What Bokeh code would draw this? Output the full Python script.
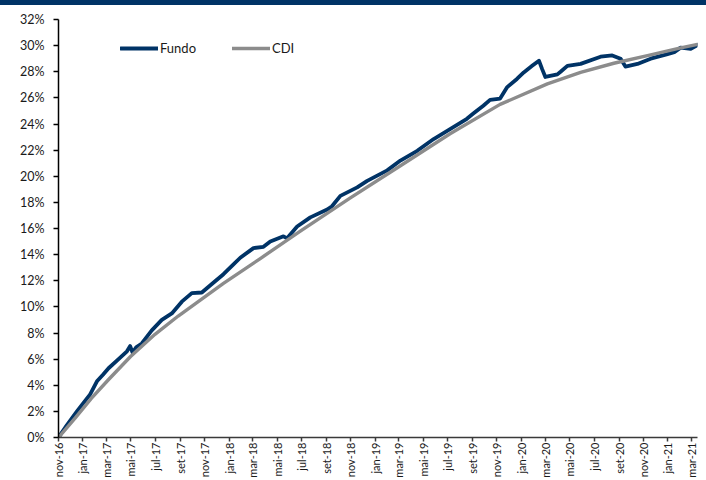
from math import pi
import pandas as pd
from bokeh.plotting import figure
from bokeh.layouts import column
from bokeh.models import (Range1d, FixedTicker, PrintfTickFormatter, CustomJSTickFormatter,
                          Legend, LegendItem, ColumnDataSource, Div)
from bokeh.embed import file_html
from bokeh.resources import INLINE

# ---------------- data ----------------
fundo_dates = ["2016-11-01", "2016-11-22", "2016-12-17", "2017-01-01", "2017-01-19", "2017-02-05",
               "2017-02-20", "2017-03-06", "2017-03-31", "2017-04-21", "2017-04-29", "2017-05-05",
               "2017-05-14", "2017-05-28", "2017-06-22", "2017-07-17", "2017-08-11", "2017-09-05",
               "2017-09-30", "2017-10-25", "2017-11-19", "2017-12-18", "2018-01-12", "2018-01-29",
               "2018-03-03", "2018-03-28", "2018-04-14", "2018-05-17", "2018-05-26", "2018-06-20",
               "2018-07-23", "2018-09-03", "2018-09-15", "2018-10-06", "2018-11-17", "2018-12-12",
               "2019-01-31", "2019-03-05", "2019-04-16", "2019-05-27", "2019-07-07", "2019-08-18",
               "2019-09-03", "2019-09-28", "2019-10-15", "2019-11-09", "2019-11-26", "2019-12-21",
               "2020-01-07", "2020-01-28", "2020-02-14", "2020-02-22", "2020-03-01", "2020-03-31",
               "2020-04-08", "2020-04-25", "2020-05-28", "2020-07-17", "2020-08-15", "2020-09-05",
               "2020-09-17", "2020-10-17", "2020-11-19", "2020-12-31", "2021-01-17", "2021-02-02",
               "2021-02-27", "2021-03-16"]
fundo_values = [0.0, 0.95, 2.0, 2.6, 3.3, 4.3,
                4.8, 5.3, 6.0, 6.6, 7.0, 6.5,
                6.9, 7.2, 8.2, 9.0, 9.5, 10.4,
                11.05, 11.1, 11.75, 12.5, 13.25, 13.76,
                14.5, 14.6, 15.0, 15.4, 15.25, 16.15,
                16.85, 17.45, 17.7, 18.5, 19.15, 19.65,
                20.45, 21.2, 21.95, 22.85, 23.6, 24.4,
                24.8, 25.4, 25.85, 25.95, 26.8, 27.45,
                27.95, 28.45, 28.85, 28.2, 27.6, 27.8,
                28.0, 28.45, 28.6, 29.15, 29.25, 29.0,
                28.4, 28.6, 29.0, 29.35, 29.5, 29.85,
                29.75, 30.05]

cdi_dates = ["2016-11-01", "2016-12-13", "2017-01-22", "2017-03-05", "2017-04-30", "2017-06-30",
             "2017-08-27", "2017-10-16", "2017-12-18", "2018-03-20", "2018-06-28", "2018-10-31",
             "2019-03-05", "2019-07-07", "2019-11-09", "2020-03-06", "2020-05-28", "2020-08-19",
             "2020-11-11", "2021-02-02", "2021-03-16"]
cdi_values = [0.0, 1.5, 3.0, 4.4, 6.2, 7.9,
              9.3, 10.4, 11.8, 13.7, 15.8, 18.35,
              20.8, 23.25, 25.5, 27.07, 27.96, 28.65,
              29.24, 29.83, 30.1]

x_tick_dates = ["2016-11-01", "2017-01-01", "2017-03-01", "2017-05-01", "2017-07-01", "2017-09-01",
                "2017-11-01", "2018-01-01", "2018-03-01", "2018-05-01", "2018-07-01", "2018-09-01",
                "2018-11-01", "2019-01-01", "2019-03-01", "2019-05-01", "2019-07-01", "2019-09-01",
                "2019-11-01", "2020-01-01", "2020-03-01", "2020-05-01", "2020-07-01", "2020-09-01",
                "2020-11-01", "2021-01-01", "2021-03-01"]
month_names = ["jan", "fev", "mar", "abr", "mai", "jun", "jul", "ago", "set", "out", "nov", "dez"]
y_ticks = [0, 2, 4, 6, 8, 10, 12, 14, 16, 18, 20, 22, 24, 26, 28, 30, 32]
x_start = "2016-11-01"
x_end = "2021-03-16"
y_min, y_max = 0, 32
series_names = ["Fundo", "CDI"]

# ---------------- styles ----------------
NAVY = "#003366"
GRAY = "#8c8c8c"
FONT = "Lato"


def to_ms(d):
    return int(pd.Timestamp(d).value // 10**6)


fundo_src = ColumnDataSource(dict(x=pd.to_datetime(fundo_dates), y=fundo_values))
cdi_src = ColumnDataSource(dict(x=pd.to_datetime(cdi_dates), y=cdi_values))

p = figure(width=706, height=475, x_axis_type="datetime",
           x_range=Range1d(pd.Timestamp(x_start), pd.Timestamp(x_end)),
           y_range=Range1d(y_min, y_max),
           output_backend="svg", toolbar_location=None,
           min_border_left=58, min_border_right=9, min_border_top=14, min_border_bottom=10)
p.outline_line_color = None
p.xgrid.visible = False
p.ygrid.visible = False
p.background_fill_color = "white"
p.border_fill_color = "white"

r_fundo = p.line("x", "y", source=fundo_src, line_color=NAVY, line_width=3.8,
                 line_join="round", line_cap="round")
r_cdi = p.line("x", "y", source=cdi_src, line_color=GRAY, line_width=3.4,
               line_join="round", line_cap="round")

# y axis
p.yaxis.ticker = FixedTicker(ticks=y_ticks)
p.yaxis.formatter = PrintfTickFormatter(format="%d%%")
p.yaxis.major_tick_out = 5
p.yaxis.major_tick_in = 0
p.yaxis.minor_tick_out = 0
p.yaxis.minor_tick_in = 0
p.yaxis.major_label_standoff = 9
p.yaxis.axis_line_color = "black"
p.yaxis.axis_line_width = 1.5
p.yaxis.major_tick_line_color = "black"
p.yaxis.major_tick_line_width = 1.5
p.yaxis.major_label_text_font = FONT
p.yaxis.major_label_text_font_size = "12.5px"
p.yaxis.major_label_text_color = "#1a1a1a"

# x axis
p.xaxis.ticker = FixedTicker(ticks=[to_ms(d) for d in x_tick_dates])
p.xaxis.formatter = CustomJSTickFormatter(args=dict(names=month_names), code="""
    const d = new Date(tick);
    return names[d.getUTCMonth()] + "-" + String(d.getUTCFullYear()).slice(2);
""")
p.xaxis.major_label_orientation = pi / 2
p.xaxis.major_tick_out = 4
p.xaxis.major_tick_in = 0
p.xaxis.minor_tick_out = 0
p.xaxis.minor_tick_in = 0
p.xaxis.major_label_standoff = 1
p.xaxis.axis_line_color = "#3a3a3a"
p.xaxis.axis_line_width = 1.6
p.xaxis.major_tick_line_color = "#3a3a3a"
p.xaxis.major_tick_line_width = 1.5
p.xaxis.major_label_text_font = FONT
p.xaxis.major_label_text_font_size = "11px"
p.xaxis.major_label_text_color = "#1a1a1a"

# legend
legend = Legend(items=[LegendItem(label=series_names[0], renderers=[r_fundo]),
                       LegendItem(label=series_names[1], renderers=[r_cdi])],
                orientation="horizontal", location=(62, 381),
                padding=0, margin=0, spacing=36,
                glyph_width=38, glyph_height=16, label_height=16, label_standoff=2,
                label_text_font=FONT, label_text_font_size="13px", label_text_color="#1a1a1a",
                border_line_color=None, background_fill_alpha=0)
p.add_layout(legend)

# navy band across the top of the chart
top_band = Div(text="", width=706, height=5, margin=0,
               styles={"background-color": NAVY})

layout = column(top_band, p, spacing=0)

open("out.html", "w").write(file_html(layout, INLINE))
